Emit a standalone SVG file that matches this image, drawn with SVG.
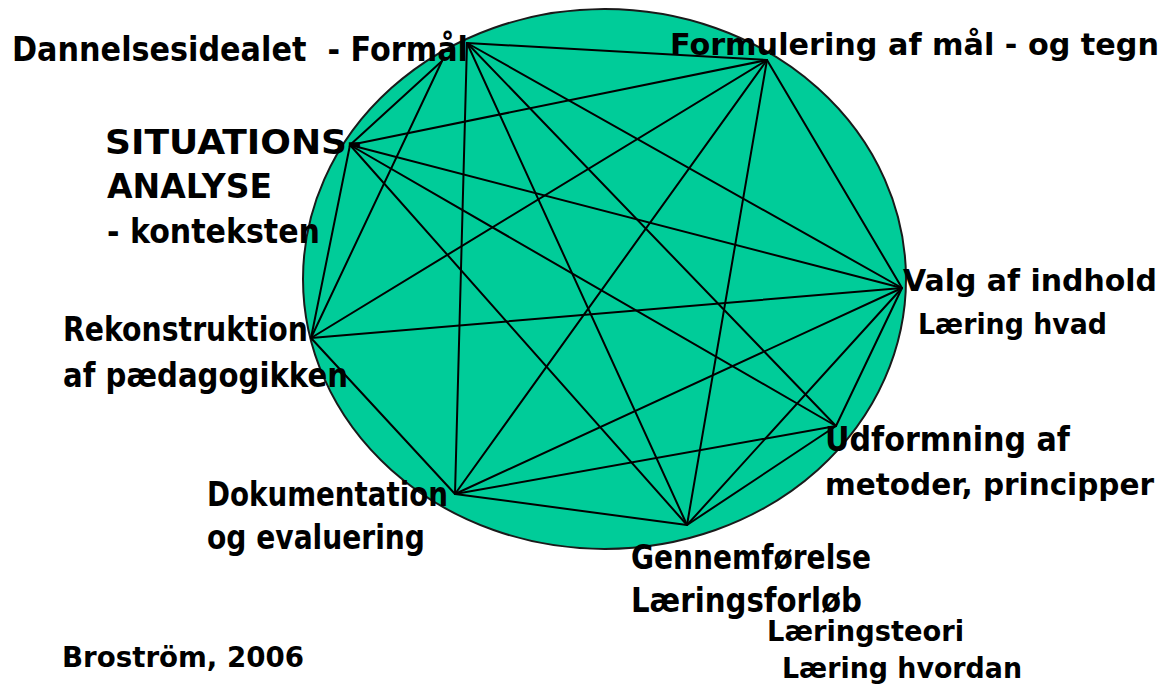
<svg xmlns="http://www.w3.org/2000/svg" width="1171" height="684" viewBox="0 0 1171 684">
<style>
.lbl{font-family:"DejaVu Sans","Liberation Sans",sans-serif;font-weight:bold;font-size:33px;fill:#000}
.sm{font-size:28px}
.rt{font-size:30px}
.edge{stroke:#000;stroke-width:2;fill:none;stroke-linecap:round}
</style>
<rect width="1171" height="684" fill="#fff"/>
<g id="circle">
<ellipse cx="604.5" cy="279" rx="301.5" ry="270" fill="#00CC99" stroke="#1a1a1a" stroke-width="2"/>
</g>
<g id="connectors">
<line class="edge" x1="467" y1="43" x2="767" y2="60"/>
<line class="edge" x1="467" y1="43" x2="455" y2="494"/>
<line class="edge" x1="467" y1="43" x2="687" y2="525"/>
<line class="edge" x1="467" y1="43" x2="836" y2="426"/>
<line class="edge" x1="467" y1="43" x2="902" y2="288"/>
<line class="edge" x1="442" y1="61" x2="350" y2="145"/>
<line class="edge" x1="442" y1="61" x2="311" y2="338"/>
<line class="edge" x1="767" y1="60" x2="350" y2="145"/>
<line class="edge" x1="767" y1="60" x2="902" y2="288"/>
<line class="edge" x1="767" y1="60" x2="311" y2="338"/>
<line class="edge" x1="767" y1="60" x2="455" y2="494"/>
<line class="edge" x1="767" y1="60" x2="687" y2="525"/>
<line class="edge" x1="350" y1="145" x2="902" y2="288"/>
<line class="edge" x1="350" y1="145" x2="311" y2="338"/>
<line class="edge" x1="350" y1="145" x2="836" y2="426"/>
<line class="edge" x1="350" y1="145" x2="687" y2="525"/>
<line class="edge" x1="902" y1="288" x2="311" y2="338"/>
<line class="edge" x1="902" y1="288" x2="836" y2="426"/>
<line class="edge" x1="902" y1="288" x2="455" y2="494"/>
<line class="edge" x1="902" y1="288" x2="687" y2="525"/>
<line class="edge" x1="311" y1="338" x2="455" y2="494"/>
<line class="edge" x1="836" y1="426" x2="455" y2="494"/>
<line class="edge" x1="836" y1="426" x2="687" y2="525"/>
<line class="edge" x1="455" y1="494" x2="687" y2="525"/>
</g>
<g id="node-formaal"><text class="lbl" x="12" y="61" textLength="456" lengthAdjust="spacingAndGlyphs" xml:space="preserve">Dannelsesidealet  - Formål</text></g>
<g id="node-formulering"><text class="lbl rt" x="670" y="55" textLength="489" lengthAdjust="spacingAndGlyphs">Formulering af mål - og tegn</text></g>
<g id="node-situation">
<text class="lbl" x="105" y="154" textLength="257" lengthAdjust="spacingAndGlyphs">SITUATIONS-</text>
<text class="lbl" x="107" y="198" textLength="165" lengthAdjust="spacingAndGlyphs">ANALYSE</text>
<text class="lbl" x="107" y="243" textLength="213" lengthAdjust="spacingAndGlyphs">- konteksten</text>
</g>
<g id="node-rekonstruktion">
<text class="lbl" x="63" y="341" textLength="245" lengthAdjust="spacingAndGlyphs">Rekonstruktion</text>
<text class="lbl" x="63" y="387" textLength="285" lengthAdjust="spacingAndGlyphs">af pædagogikken</text>
</g>
<g id="node-valg">
<text class="lbl rt" x="903" y="291" textLength="254" lengthAdjust="spacingAndGlyphs">Valg af indhold</text>
<text class="lbl sm" x="918" y="334" textLength="189" lengthAdjust="spacingAndGlyphs">Læring hvad</text>
</g>
<g id="node-udformning">
<text class="lbl" x="825" y="451" textLength="245" lengthAdjust="spacingAndGlyphs">Udformning af</text>
<text class="lbl rt" x="825" y="495" textLength="329" lengthAdjust="spacingAndGlyphs">metoder, principper</text>
</g>
<g id="node-dokumentation">
<text class="lbl" x="207" y="506" textLength="241" lengthAdjust="spacingAndGlyphs">Dokumentation</text>
<text class="lbl" x="207" y="549" textLength="218" lengthAdjust="spacingAndGlyphs">og evaluering</text>
</g>
<g id="node-gennemfoerelse">
<text class="lbl" x="631" y="569" textLength="240" lengthAdjust="spacingAndGlyphs">Gennemførelse</text>
<text class="lbl" x="631" y="612" textLength="231" lengthAdjust="spacingAndGlyphs">Læringsforløb</text>
<text class="lbl sm" x="767" y="641" textLength="197" lengthAdjust="spacingAndGlyphs">Læringsteori</text>
<text class="lbl sm" x="782" y="678" textLength="240" lengthAdjust="spacingAndGlyphs">Læring hvordan</text>
</g>
<g id="source">
<text class="lbl sm" x="62" y="667" textLength="242" lengthAdjust="spacingAndGlyphs">Broström, 2006</text>
</g>
</svg>
